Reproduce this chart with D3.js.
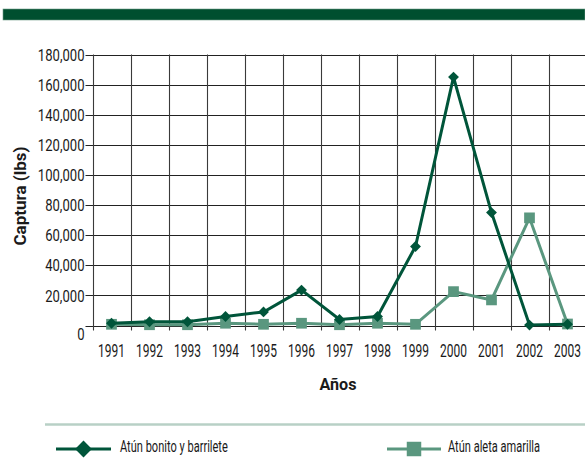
<!DOCTYPE html>
<html>
<head>
<meta charset="utf-8">
<script src="https://cdn.jsdelivr.net/npm/d3@7"></script>
<style>
  html, body { margin: 0; padding: 0; background: #fff; }
  svg { display: block; }
  text { font-family: Roboto, "DejaVu Sans", sans-serif; font-style: normal; fill: #1a1a1a; }
</style>
</head>
<body>
<svg id="chart" width="585" height="462"></svg>
<script>
// Años de captura
const years = ["1991","1992","1993","1994","1995","1996","1997","1998","1999","2000","2001","2002","2003"];
// Atún bonito y barrilete (lbs)
const bonito = [1500, 2500, 2500, 6000, 9000, 23500, 4000, 6000, 52500, 165000, 75000, 300, 800];
// Atún aleta amarilla (lbs)
const aleta = [800, 500, 500, 1500, 800, 1500, 500, 1500, 800, 22500, 17000, 71500, 1000];
// Marcas del eje vertical
const yTicks = [0, 20000, 40000, 60000, 80000, 100000, 120000, 140000, 160000, 180000];

const seriesNames = ["Atún bonito y barrilete", "Atún aleta amarilla"];
const darkGreen = "#00553a";
const lightGreen = "#5a977f";

const svg = d3.select("#chart");
const plotL = 92.5, plotR = 586.5, plotT = 54.5, plotB = 325.5;

// Texto estrechado horizontalmente (tipografía condensada)
function narrow(sel, px, py, sx, rot) {
  sel.attr("x", 0).attr("y", 0)
    .attr("transform", (d, i) => {
      const tx = typeof px === "function" ? px(d, i) : px;
      const ty = typeof py === "function" ? py(d, i) : py;
      return `translate(${tx},${ty})` + (rot ? ` rotate(${rot})` : "") + ` scale(${sx},1)`;
    });
  return sel;
}

// Banda superior
svg.append("rect").attr("x", 3).attr("y", 9).attr("width", 582).attr("height", 11)
  .attr("fill", "#004f2f").attr("stroke", "#6f9c88").attr("stroke-width", 0.6);

const x = d3.scaleBand().domain(years).range([plotL, plotR]);
const y = d3.scaleLinear().domain([0, 180000]).range([plotB, plotT]);

// Cuadrícula horizontal
svg.append("g").selectAll("line").data(yTicks).join("line")
  .attr("x1", plotL - 7).attr("x2", plotR)
  .attr("y1", d => Math.round(y(d)) + 0.5).attr("y2", d => Math.round(y(d)) + 0.5)
  .attr("stroke", "#222").attr("stroke-width", 1.1);

// Cuadrícula vertical (límites de cada año)
const bounds = years.map(d => x(d)).concat([plotR]);
svg.append("g").selectAll("line").data(bounds).join("line")
  .attr("x1", d => Math.round(d) + 0.5).attr("x2", d => Math.round(d) + 0.5)
  .attr("y1", plotT).attr("y2", plotB + 5)
  .attr("stroke", "#3a3a3a").attr("stroke-width", 1.1);

// Etiquetas del eje Y
narrow(svg.append("g").selectAll("text").data(yTicks).join("text")
  .attr("dy", "0.36em").attr("text-anchor", "end")
  .attr("font-size", 17)
  .text(d => d3.format(",")(d)),
  plotL - 8, d => y(d) + (d === 0 ? 8 : 0), 0.77);

// Etiquetas del eje X
narrow(svg.append("g").selectAll("text").data(years).join("text")
  .attr("text-anchor", "middle").attr("font-size", 19)
  .text(d => d),
  d => x(d) + x.bandwidth() / 2, 357, 0.63);

// Títulos de ejes
narrow(svg.append("text")
  .attr("text-anchor", "middle").attr("font-size", 17).attr("font-weight", "bold")
  .text("Captura (lbs)"), 26, 196, 1.0, -90);
narrow(svg.append("text")
  .attr("text-anchor", "middle").attr("font-size", 17).attr("font-weight", "bold")
  .text("Años"), 338, 390, 0.95);

const cx = d => x(d) + x.bandwidth() / 2;
const line = d3.line().x((d, i) => cx(years[i])).y(d => y(d));

const diamond = d3.symbol().type(d3.symbolDiamond2).size(75);
const square = d3.symbol().type(d3.symbolSquare).size(115);

// Serie: Atún aleta amarilla
svg.append("path").datum(aleta).attr("d", line)
  .attr("fill", "none").attr("stroke", lightGreen).attr("stroke-width", 3);
svg.append("g").selectAll("path").data(aleta).join("path")
  .attr("transform", (d, i) => `translate(${cx(years[i])},${y(d)})`)
  .attr("d", square).attr("fill", lightGreen);

// Serie: Atún bonito y barrilete
svg.append("path").datum(bonito).attr("d", line)
  .attr("fill", "none").attr("stroke", darkGreen).attr("stroke-width", 3);
svg.append("g").selectAll("path").data(bonito).join("path")
  .attr("transform", (d, i) => `translate(${cx(years[i])},${y(d)})`)
  .attr("d", diamond).attr("fill", darkGreen);

// Separador de la leyenda
svg.append("line").attr("x1", 45).attr("x2", 585).attr("y1", 424.5).attr("y2", 424.5)
  .attr("stroke", "#b8d0c6").attr("stroke-width", 2.5);

// Leyenda
const legend = [
  { name: seriesNames[0], color: darkGreen, type: d3.symbolDiamond2, size: 180, x0: 56, x1: 111, tx: 120 },
  { name: seriesNames[1], color: lightGreen, type: d3.symbolSquare, size: 210, x0: 387, x1: 441, tx: 448 }
];
const lg = svg.append("g").selectAll("g").data(legend).join("g");
lg.append("line").attr("x1", d => d.x0).attr("x2", d => d.x1)
  .attr("y1", 449).attr("y2", 449).attr("stroke", d => d.color).attr("stroke-width", 3);
lg.append("path").attr("transform", d => `translate(${(d.x0 + d.x1) / 2},449)`)
  .attr("d", d => d3.symbol().type(d.type).size(d.size)())
  .attr("fill", d => d.color);
narrow(lg.append("text").attr("font-size", 17).text(d => d.name),
  d => d.tx, 452, 0.65);
</script>
</body>
</html>
